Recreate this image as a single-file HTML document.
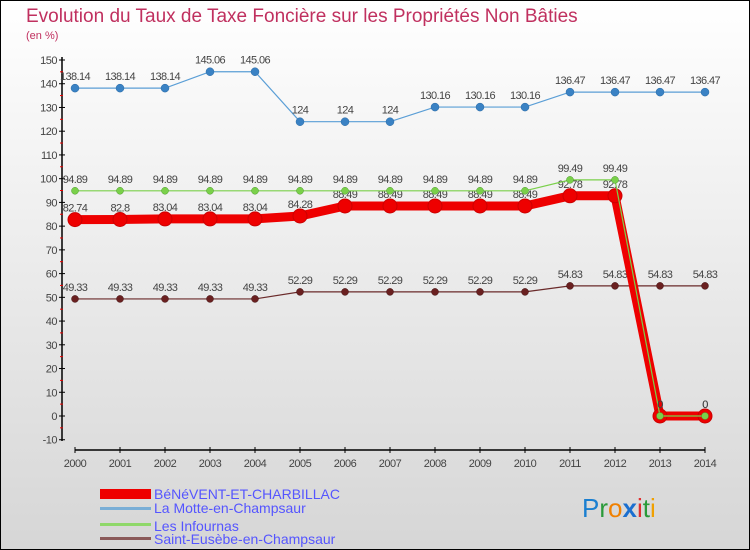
<!DOCTYPE html>
<html><head><meta charset="utf-8"><style>
body{margin:0}
#c{width:750px;height:550px;position:relative;overflow:hidden;font-family:"Liberation Sans","DejaVu Sans",sans-serif}
</style></head><body>
<div id="c">
<svg id="s" width="750" height="550" xmlns="http://www.w3.org/2000/svg">
<defs><linearGradient id="bg" x1="0" y1="0" x2="0" y2="1"><stop offset="0" stop-color="#ffffff"/><stop offset="1" stop-color="#d6d6d6"/></linearGradient></defs>
<rect x="0.5" y="0.5" width="749" height="549" fill="url(#bg)" stroke="#000"/>
<text x="26" y="22" font-size="19" fill="#c0305f">Evolution du Taux de Taxe Foncière sur les Propriétés Non Bâties</text>
<text x="26" y="39" font-size="11" fill="#c0305f">(en %)</text>
<g id="axes"></g><g id="marks"></g>
<g>
<rect x="100" y="489" width="51" height="10" fill="#e00"/>
<text x="154" y="499" font-size="14" fill="#55f">BéNéVENT-ET-CHARBILLAC</text>
<rect x="100" y="507" width="51" height="3" fill="#7aaed6"/>
<text x="154" y="513" font-size="14" fill="#55f">La Motte-en-Champsaur</text>
<rect x="100" y="523" width="51" height="3" fill="#8fd86a"/>
<text x="154" y="531" font-size="14" fill="#55f">Les Infournas</text>
<rect x="100" y="537" width="51" height="3" fill="#8a5a5a"/>
<text x="154" y="544" font-size="14" fill="#55f">Saint-Eusèbe-en-Champsaur</text>
</g>
<text x="582" y="517" font-size="26"><tspan fill="#1a7fd0">P</tspan><tspan fill="#2a9a3a">r</tspan><tspan fill="#f08000">o</tspan><tspan fill="#1a6fd0" font-weight="bold">x</tspan><tspan fill="#e03030">i</tspan><tspan fill="#2a9a3a">t</tspan><tspan fill="#f0a000">i</tspan></text>
</svg></div>
<script>
const years=[2000,2001,2002,2003,2004,2005,2006,2007,2008,2009,2010,2011,2012,2013,2014];
const yTicks=[-10,0,10,20,30,40,50,60,70,80,90,100,110,120,130,140,150];
const benevent=[82.74,82.8,83.04,83.04,83.04,84.28,88.49,88.49,88.49,88.49,88.49,92.78,92.78,0,0];
const laMotte=[138.14,138.14,138.14,145.06,145.06,124,124,124,130.16,130.16,130.16,136.47,136.47,136.47,136.47];
const infournas=[94.89,94.89,94.89,94.89,94.89,94.89,94.89,94.89,94.89,94.89,94.89,99.49,99.49,0,0];
const saintEusebe=[49.33,49.33,49.33,49.33,49.33,52.29,52.29,52.29,52.29,52.29,52.29,54.83,54.83,54.83,54.83];
const NS="http://www.w3.org/2000/svg";
const xS=i=>75+i*45;
const yS=v=>416-v*(356/150);
function mk(t,a,p){const e=document.createElementNS(NS,t);for(const k in a)e.setAttribute(k,a[k]);p.appendChild(e);return e;}
const ax=document.getElementById('axes'),mg=document.getElementById('marks');
let l=mk('line',{x1:62,y1:57,x2:62,y2:441,stroke:'#000','stroke-width':1.5},ax);

l=mk('line',{x1:75,y1:450,x2:705,y2:450,stroke:'#000','stroke-width':1.5},ax);

yTicks.forEach((v,k)=>{const y=yS(v);
 mk('line',{x1:59,y1:y,x2:65,y2:y,stroke:'#000'},ax);
 if(k<yTicks.length-1) mk('line',{x1:60,y1:y-11.9,x2:63,y2:y-11.9,stroke:'#e00'},ax);
 const t=mk('text',{x:57,y:y+4,'font-size':11,'text-anchor':'end',fill:'#444','letter-spacing':'-0.5'},ax);t.textContent=v;
 });
years.forEach((yr,i)=>{const x=xS(i);
 mk('line',{x1:x,y1:447,x2:x,y2:453,stroke:'#000'},ax);
 const t=mk('text',{x:x,y:467,'font-size':11,'text-anchor':'middle',fill:'#444','letter-spacing':'-0.5'},ax);t.textContent=yr;
 });
function series(vals,name,color,w,r,fill,stroke,sw){
 const g=mk('g',{},mg);
 mk('polyline',{points:vals.map((v,i)=>xS(i)+','+yS(v)).join(' '),fill:'none',stroke:color,'stroke-width':w},g);
 vals.forEach((v,i)=>{const c=mk('circle',{cx:xS(i),cy:yS(v),r:r,fill:fill,stroke:stroke,'stroke-width':sw},g);
  
  const t=mk('text',{x:xS(i),y:yS(v)-8,'font-size':11,'text-anchor':'middle',fill:'#444','letter-spacing':'-0.6'},g);t.textContent=v;
  });
}
series(laMotte,'la-motte','#5a9ed6',1.2,4,'#3a82c4','#2a6aa4',0.5);
series(saintEusebe,'saint-eusebe','#6a2a2a',1.2,3.5,'#6a2020','#401010',0.5);
series(benevent,'benevent','#e00',9,7,'#e00','#c00',1);
series(infournas,'infournas','#7ad04a',1.2,3.5,'#7ad04a','#4a9a2a',0.5);
</script>
</body></html>
